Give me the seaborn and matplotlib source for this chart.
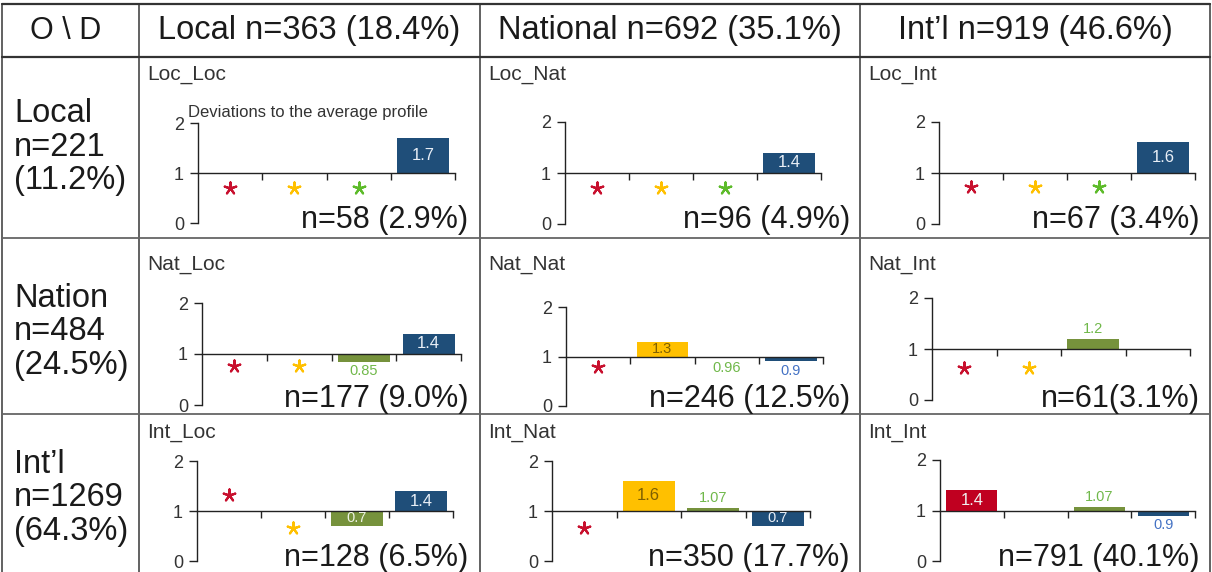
import numpy as np
import pandas as pd
import matplotlib.pyplot as plt
import seaborn as sns

sns.set_theme(style='white')
plt.rcParams['font.family'] = ['Liberation Sans', 'DejaVu Sans']

W, H = 1212, 572

## Data
cats = ['c1', 'c2', 'c3', 'c4']
bar_colors = ['#C00020', '#FFC000', '#76923C', '#1F4E79']
star_colors = ['#C8102E', '#FFC000', '#5DBB2A', '#1F4E79']
inside_colors = ['#F0F0F0', '#7F6000', '#EEF3E4', '#E8EEF6']
outside_colors = ['#C00020', '#B08A00', '#70B84A', '#4472C4']

corner = 'O \\ D'
col_heads = ['Local n=363 (18.4%)', 'National n=692 (35.1%)', 'Int’l n=919 (46.6%)']
row_heads = ['Local\nn=221\n(11.2%)', 'Nation\nn=484\n(24.5%)', 'Int’l\nn=1269\n(64.3%)']
names = ['Loc_Loc', 'Loc_Nat', 'Loc_Int',
         'Nat_Loc', 'Nat_Nat', 'Nat_Int',
         'Int_Loc', 'Int_Nat', 'Int_Int']
n_labels = ['n=58 (2.9%)', 'n=96 (4.9%)', 'n=67 (3.4%)',
            'n=177 (9.0%)', 'n=246 (12.5%)', 'n=61(3.1%)',
            'n=128 (6.5%)', 'n=350 (17.7%)', 'n=791 (40.1%)']
note = 'Deviations to the average profile'

# ratio to the average profile per category (nan = no bar)
ratios = [
    [np.nan, np.nan, np.nan, 1.7],
    [np.nan, np.nan, np.nan, 1.4],
    [np.nan, np.nan, np.nan, 1.6],
    [np.nan, np.nan, 0.85, 1.4],
    [np.nan, 1.3, 0.96, 0.9],
    [np.nan, np.nan, 1.2, np.nan],
    [np.nan, np.nan, 0.7, 1.4],
    [np.nan, 1.6, 1.07, 0.7],
    [1.4, np.nan, 1.07, 0.9],
]
# star markers (y value) per category (nan = no star)
stars = [
    [0.7, 0.7, 0.7, np.nan],
    [0.7, 0.7, 0.7, np.nan],
    [0.72, 0.72, 0.72, np.nan],
    [0.76, 0.76, np.nan, np.nan],
    [0.78, np.nan, np.nan, np.nan],
    [0.62, 0.62, np.nan, np.nan],
    [1.32, 0.66, np.nan, np.nan],
    [0.66, np.nan, np.nan, np.nan],
    [np.nan, np.nan, np.nan, np.nan],
]

## Layout (pixels)
vlines = [2, 139, 480, 860, 1210]
hlines = [4, 57, 238, 414, 575]
# axis x, last tick x, y of "2", y of "0"
panel_px = [
    (198, 455, 123, 223), (565, 821, 122, 224), (939, 1195, 122, 224),
    (202, 461, 303, 405), (566, 823, 307, 406), (932, 1190, 298, 400),
    (197, 453, 461, 561), (552, 810, 461, 561), (940, 1195, 460, 561),
]
title_y = [75, 265, 433]
n_right = [468, 850, 1200]
n_base = [228, 407, 566]

fig = plt.figure(figsize=(W / 100, H / 100), dpi=100)

# table background
bg = fig.add_axes([0, 0, 1, 1])
bg.set_xlim(0, W)
bg.set_ylim(H, 0)
bg.axis('off')
for x in vlines:
    bg.plot([x, x], [hlines[0], hlines[-1]], color='#555555', lw=1.3)
for i, y in enumerate(hlines[:-1]):
    bg.plot([vlines[0], vlines[-1]], [y, y], color='#333333' if i < 2 else '#666666',
            lw=1.6 if i < 2 else 1.3)

bg.text(66, 31, corner, ha='center', va='center', fontsize=22, color='#1a1a1a')
for c, t in enumerate(col_heads):
    bg.text((vlines[c + 1] + vlines[c + 2]) / 2, 31, t, ha='center', va='center',
            fontsize=23.5, color='#1a1a1a')
row_mid = [147, 332, 498]
for r, t in enumerate(row_heads):
    bg.text(14, row_mid[r], t, ha='left', va='center', fontsize=23.5, linespacing=1.12,
            color='#1a1a1a')

for k, name in enumerate(names):
    r, c = divmod(k, 3)
    bg.text(vlines[c + 1] + 8, title_y[r], name, ha='left', va='center', fontsize=15,
            color='#333333')
    bg.text(n_right[c], n_base[r], n_labels[k], ha='right', va='baseline', fontsize=22,
            color='#1a1a1a')

bg.text(188, 112, note, ha='left', va='center', fontsize=12, color='#333333')

# bar panels
for k, name in enumerate(names):
    x0, x1, yt, yb = panel_px[k]
    ax = fig.add_axes([x0 / W, 1 - yb / H, (x1 - x0) / W, (yb - yt) / H])
    ax.patch.set_alpha(0)

    d = pd.DataFrame({'cat': cats, 'dev': np.array(ratios[k]) - 1}).dropna()
    sns.barplot(data=d, x='cat', y='dev', hue='cat', order=cats, hue_order=cats,
                palette=bar_colors, saturation=1, width=0.8, linewidth=0,
                legend=False, ax=ax)

    for i, v in enumerate(ratios[k]):
        if np.isnan(v):
            continue
        dv = v - 1
        txt = f'{v:g}'
        if abs(dv) >= 0.25:
            ax.text(i, dv / 2, txt, ha='center', va='center', color=inside_colors[i],
                    fontsize=12 if abs(dv) >= 0.35 else 10.5)
        elif dv > 0:
            ax.text(i, dv + 0.05, txt, ha='center', va='bottom', color=outside_colors[i],
                    fontsize=10.5)
        else:
            ax.text(i, dv - 0.05, txt, ha='center', va='top', color=outside_colors[i],
                    fontsize=10.5)

    for i, sy in enumerate(stars[k]):
        if np.isnan(sy):
            continue
        ax.scatter(i, sy - 1, marker=(5, 2, 0), s=75, color=star_colors[i],
                   linewidths=1.6, zorder=5, clip_on=False)

    ax.set_xlim(-0.5, 3.5)
    ax.set_ylim(-1, 1)
    ax.set_yticks([-1, 0, 1])
    ax.set_yticklabels(['0', '1', '2'])
    ax.set_xticks([0.5, 1.5, 2.5, 3.5])
    ax.set_xticklabels([])
    ax.set_xlabel('')
    ax.set_ylabel('')
    for s in ['top', 'right']:
        ax.spines[s].set_visible(False)
    ax.spines['bottom'].set_position(('data', 0))
    for s in ['left', 'bottom']:
        ax.spines[s].set_color('#222222')
        ax.spines[s].set_linewidth(1.0)
    ax.tick_params(axis='y', left=True, direction='out', length=6, width=1,
                   color='#222222', pad=4, labelsize=13, labelcolor='#333333')
    ax.tick_params(axis='x', bottom=True, direction='out', length=5, width=1,
                   color='#222222')

fig.savefig('out.png', dpi=100)
